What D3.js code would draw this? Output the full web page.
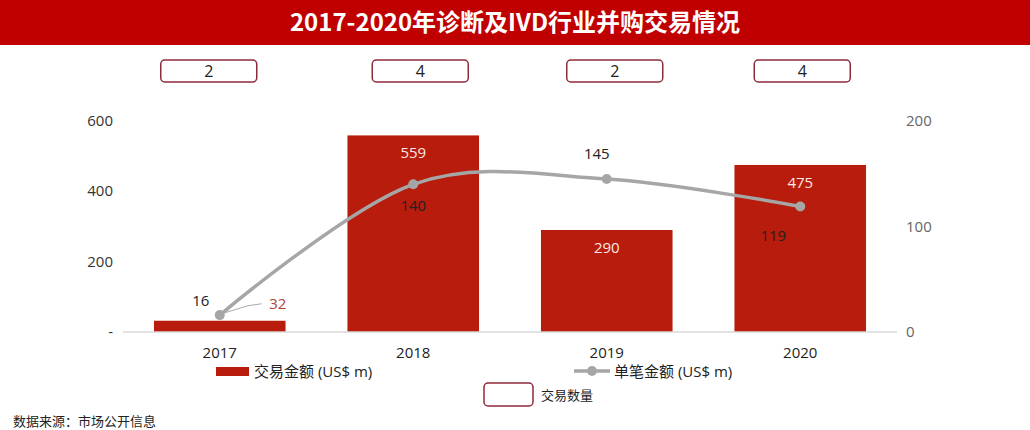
<!DOCTYPE html>
<html>
<head>
<meta charset="utf-8">
<script src="https://cdn.jsdelivr.net/npm/d3@7/dist/d3.min.js"></script>
<style>
  body { margin: 0; background: #fff; }
  text { font-family: "Open Sans", "Noto Sans CJK SC", sans-serif; }
</style>
</head>
<body>
<div id="chart"></div>
<script>
// chart data
var years = ["2017", "2018", "2019", "2020"];
var amount = [32, 559, 290, 475];     // 交易金额 (US$ m)
var perDeal = [16, 140, 145, 119];    // 单笔金额 (US$ m)
var counts = [2, 4, 2, 4];            // 交易数量
var leftTicks = [0, 200, 400, 600];
var rightTicks = [0, 100, 200];

var W = 1030, H = 430;
var margin = {top: 121, left: 123, right: 133, bottom: 98};
var width = W - margin.left - margin.right,
    height = H - margin.top - margin.bottom;

var svg = d3.select("#chart").append("svg")
    .attr("width", W)
    .attr("height", H);

// title bar
svg.append("rect")
    .attr("x", 0).attr("y", 0)
    .attr("width", W).attr("height", 45)
    .attr("fill", "#c00000");
svg.append("text")
    .attr("x", W / 2).attr("y", 31)
    .attr("text-anchor", "middle")
    .attr("fill", "#fff")
    .style("font-family", '"Noto Sans CJK SC", sans-serif')
    .style("font-weight", "bold")
    .style("font-size", "24px")
    .text("2017-2020年诊断及IVD行业并购交易情况");

var g = svg.append("g")
    .attr("transform", "translate(" + margin.left + "," + margin.top + ")");

var x = d3.scaleBand()
    .domain(years)
    .range([0, width])
    .paddingInner(0.32)
    .paddingOuter(0.16);

var y = d3.scaleLinear().domain([0, 600]).range([height, 0]);
var y2 = d3.scaleLinear().domain([0, 200]).range([height, 0]);

var cx = function(d) { return x(d) + x.bandwidth() / 2; };

// left axis labels
g.selectAll(".ltick")
  .data(leftTicks)
  .enter().append("text")
    .attr("x", -10)
    .attr("y", function(d) { return y(d) + 5; })
    .attr("text-anchor", "end")
    .attr("fill", "#333")
    .style("font-size", "15px")
    .text(function(d) { return d === 0 ? "-" : d; });

// right axis labels
g.selectAll(".rtick")
  .data(rightTicks)
  .enter().append("text")
    .attr("x", width + 9)
    .attr("y", function(d) { return y2(d) + 5; })
    .attr("fill", "#666")
    .style("font-size", "15px")
    .text(function(d) { return d; });

// bars
g.selectAll(".bar")
  .data(amount)
  .enter().append("rect")
    .attr("x", function(d, i) { return x(years[i]); })
    .attr("y", function(d) { return y(d); })
    .attr("width", x.bandwidth())
    .attr("height", function(d) { return height - y(d); })
    .attr("fill", "#b71c0c");

// baseline
g.append("line")
    .attr("x1", 0).attr("x2", width)
    .attr("y1", height).attr("y2", height)
    .attr("stroke", "#d9d9d9")
    .attr("stroke-width", 1.5);

// x labels
g.selectAll(".xlab")
  .data(years)
  .enter().append("text")
    .attr("x", cx)
    .attr("y", height + 26)
    .attr("text-anchor", "middle")
    .attr("fill", "#222")
    .style("font-size", "15px")
    .text(function(d) { return d; });

// bar value labels (small bar gets label outside)
g.selectAll(".blab")
  .data(amount)
  .enter().append("text")
    .attr("x", function(d, i) { return i === 0 ? cx(years[i]) + 58 : cx(years[i]); })
    .attr("y", function(d, i) { return i === 0 ? y(d) - 12 : y(d) + 23; })
    .attr("text-anchor", "middle")
    .attr("fill", function(d, i) { return i === 0 ? "#b2403a" : "#fde8e4"; })
    .style("font-size", "15px")
    .text(function(d) { return d; });

// leader for the 32 label
g.append("path")
    .attr("d", "M" + (cx(years[0]) + 4) + "," + (y2(perDeal[0]) - 2) +
               " L" + (cx(years[0]) + 28) + "," + (y(amount[0]) - 15) +
               " L" + (cx(years[0]) + 42) + "," + (y(amount[0]) - 17))
    .attr("fill", "none")
    .attr("stroke", "#aaa")
    .attr("stroke-width", 1);

// line
var line = d3.line()
    .x(function(d, i) { return cx(years[i]); })
    .y(function(d) { return y2(d); })
    .curve(d3.curveCardinal.tension(0));

g.append("path")
    .datum(perDeal)
    .attr("d", line)
    .attr("fill", "none")
    .attr("stroke", "#a6a6a6")
    .attr("stroke-width", 3.5);

g.selectAll(".dot")
  .data(perDeal)
  .enter().append("circle")
    .attr("cx", function(d, i) { return cx(years[i]); })
    .attr("cy", function(d) { return y2(d); })
    .attr("r", 5)
    .attr("fill", "#a6a6a6");

// line value labels
var lineLabelOffset = [[-19, -9], [0, 27], [-10, -20], [-27, 35]];
g.selectAll(".llab")
  .data(perDeal)
  .enter().append("text")
    .attr("x", function(d, i) { return cx(years[i]) + lineLabelOffset[i][0]; })
    .attr("y", function(d, i) { return y2(d) + lineLabelOffset[i][1]; })
    .attr("text-anchor", "middle")
    .attr("fill", "#222")
    .style("font-size", "15px")
    .text(function(d) { return d; });

// deal count boxes
var boxShift = [-11, 7, 8, 2];
var boxes = svg.selectAll(".cnt")
  .data(counts)
  .enter().append("g")
    .attr("transform", function(d, i) {
      return "translate(" + (margin.left + cx(years[i]) + boxShift[i]) + ",71)";
    });
boxes.append("rect")
    .attr("x", -48).attr("y", -11)
    .attr("width", 96).attr("height", 22)
    .attr("rx", 4)
    .attr("fill", "#fff")
    .attr("stroke", "#8e2b3a")
    .attr("stroke-width", 1.5);
boxes.append("text")
    .attr("y", 6)
    .attr("text-anchor", "middle")
    .attr("fill", "#222")
    .style("font-size", "16px")
    .text(function(d) { return d; });

// legend
var leg = svg.append("g").style("font-family", '"Noto Sans CJK SC", sans-serif');
leg.append("rect")
    .attr("x", 216).attr("y", 367)
    .attr("width", 33).attr("height", 9)
    .attr("fill", "#b71c0c");
leg.append("text")
    .attr("x", 254).attr("y", 377)
    .attr("fill", "#222")
    .style("font-size", "15px")
    .text("交易金额 (US$ m)");
leg.append("line")
    .attr("x1", 574).attr("x2", 610)
    .attr("y1", 371).attr("y2", 371)
    .attr("stroke", "#a6a6a6")
    .attr("stroke-width", 3.5);
leg.append("circle")
    .attr("cx", 592).attr("cy", 371).attr("r", 5)
    .attr("fill", "#a6a6a6");
leg.append("text")
    .attr("x", 614).attr("y", 377)
    .attr("fill", "#222")
    .style("font-size", "15px")
    .text("单笔金额 (US$ m)");
leg.append("rect")
    .attr("x", 484).attr("y", 383)
    .attr("width", 49).attr("height", 23)
    .attr("rx", 4)
    .attr("fill", "#fff")
    .attr("stroke", "#8e2b3a")
    .attr("stroke-width", 1.5);
leg.append("text")
    .attr("x", 541).attr("y", 400)
    .attr("fill", "#222")
    .style("font-size", "13px")
    .text("交易数量");

// source
svg.append("text")
    .attr("x", 13).attr("y", 426)
    .attr("fill", "#222")
    .style("font-family", '"Noto Sans CJK SC", sans-serif')
    .style("font-size", "13px")
    .text("数据来源：市场公开信息");
</script>
</body>
</html>
